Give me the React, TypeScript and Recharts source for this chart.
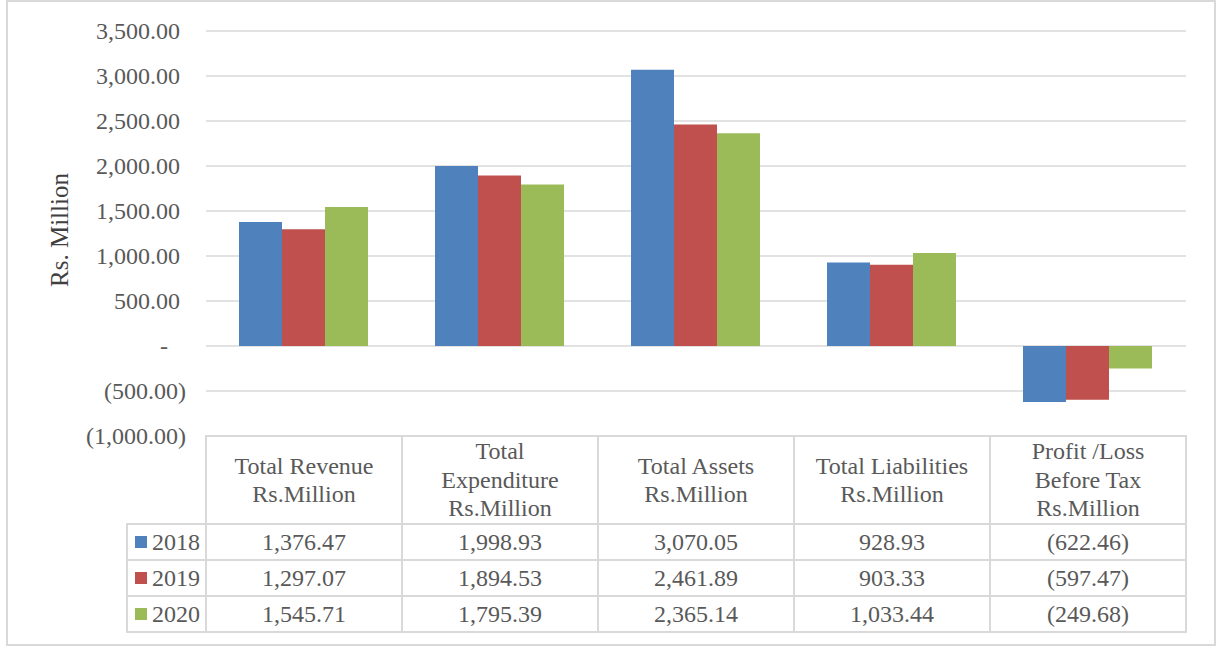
import React from 'react';
import { BarChart, Bar, XAxis, YAxis, CartesianGrid } from 'recharts';

const categories = ['Total Revenue', 'Total Expenditure', 'Total Assets', 'Total Liabilities', 'Profit /Loss Before Tax'];
const headerLines = [
  ['Total Revenue', 'Rs.Million'],
  ['Total', 'Expenditure', 'Rs.Million'],
  ['Total Assets', 'Rs.Million'],
  ['Total Liabilities', 'Rs.Million'],
  ['Profit /Loss', 'Before Tax', 'Rs.Million'],
];
const years = ['2018', '2019', '2020'];
const values2018 = [1376.47, 1998.93, 3070.05, 928.93, -622.46];
const values2019 = [1297.07, 1894.53, 2461.89, 903.33, -597.47];
const values2020 = [1545.71, 1795.39, 2365.14, 1033.44, -249.68];
const yTicks = [-1000, -500, 0, 500, 1000, 1500, 2000, 2500, 3000, 3500];
const colors = ['#4F81BD', '#C0504D', '#9BBB59'];

const seriesValues = [values2018, values2019, values2020];

const data = categories.map((name, i) => ({
  name,
  y2018: values2018[i],
  y2019: values2019[i],
  y2020: values2020[i],
}));

const fmt = (v: number) => {
  if (v === 0) return '-';
  const s = Math.abs(v).toLocaleString('en-US', { minimumFractionDigits: 2, maximumFractionDigits: 2 });
  return v < 0 ? `(${s})` : s;
};

const FONT = '"Liberation Serif", "Times New Roman", serif';
const TEXT = '#595959';
const LINE = '#d9d9d9';
const FS = 24;

const YTick = (props: any) => {
  const { y, payload } = props;
  const v = payload.value as number;
  const x = v === 0 ? 164 : v < 0 ? 186 : 180;
  return (
    <text
      x={x}
      y={y}
      textAnchor={v === 0 ? 'middle' : 'end'}
      dominantBaseline="central"
      fill={TEXT}
      fontFamily={FONT}
      fontSize={FS}
    >
      {fmt(v)}
    </text>
  );
};

const PLOT_LEFT = 206;
const COL_W = 196;
const LEG_LEFT = 127;
const TABLE_TOP = 436;
const HEADER_H = 88;
const ROW_H = 36;

export default function App() {
  const cells: React.ReactNode[] = [];
  headerLines.forEach((lines, i) => {
    cells.push(
      <div
        key={`h${i}`}
        style={{
          position: 'absolute',
          left: PLOT_LEFT + i * COL_W,
          top: TABLE_TOP,
          width: COL_W,
          height: HEADER_H,
          display: 'flex',
          flexDirection: 'column',
          justifyContent: 'center',
          alignItems: 'center',
          lineHeight: '28.5px',
        }}
      >
        {lines.map((l, k) => (
          <div key={k}>{l}</div>
        ))}
      </div>
    );
  });
  years.forEach((yr, r) => {
    const top = TABLE_TOP + HEADER_H + r * ROW_H;
    cells.push(
      <div
        key={`l${r}`}
        style={{
          position: 'absolute',
          left: LEG_LEFT,
          top,
          width: PLOT_LEFT - LEG_LEFT,
          height: ROW_H,
          display: 'flex',
          alignItems: 'center',
        }}
      >
        <span style={{ display: 'inline-block', width: 12, height: 12, background: colors[r], marginLeft: 8, marginRight: 5 }} />
        <span>{yr}</span>
      </div>
    );
    seriesValues[r].forEach((v, c) => {
      cells.push(
        <div
          key={`c${r}-${c}`}
          style={{
            position: 'absolute',
            left: PLOT_LEFT + c * COL_W,
            top,
            width: COL_W,
            height: ROW_H,
            display: 'flex',
            alignItems: 'center',
            justifyContent: 'center',
          }}
        >
          {fmt(v)}
        </div>
      );
    });
  });

  const lines: React.ReactNode[] = [];
  const tableBottom = TABLE_TOP + HEADER_H + 3 * ROW_H;
  const right = PLOT_LEFT + 5 * COL_W;
  for (let i = 0; i <= 5; i++) {
    lines.push(
      <div key={`v${i}`} style={{ position: 'absolute', left: PLOT_LEFT + i * COL_W - 1, top: TABLE_TOP - 1, width: 2, height: tableBottom - TABLE_TOP + 2, background: LINE }} />
    );
  }
  lines.push(
    <div key="vl" style={{ position: 'absolute', left: LEG_LEFT - 1, top: TABLE_TOP + HEADER_H - 1, width: 2, height: 3 * ROW_H + 2, background: LINE }} />
  );
  lines.push(<div key="ht" style={{ position: 'absolute', left: PLOT_LEFT, top: TABLE_TOP - 1, width: right - PLOT_LEFT, height: 2, background: LINE }} />);
  for (let r = 0; r <= 3; r++) {
    const y = TABLE_TOP + HEADER_H + r * ROW_H;
    lines.push(<div key={`h${r}`} style={{ position: 'absolute', left: LEG_LEFT, top: y - 1, width: right - LEG_LEFT, height: 2, background: LINE }} />);
  }

  return (
    <div style={{ position: 'absolute', left: 0, top: 0, width: 1218, height: 648, background: '#fff', fontFamily: FONT, color: TEXT, fontSize: FS }}>
      <div style={{ position: 'absolute', left: 6, top: 0, width: 1210, height: 646, border: `2px solid ${LINE}`, boxSizing: 'border-box' }} />
      <div style={{ position: 'absolute', left: 0, top: 0 }}>
        <BarChart
          width={1218}
          height={648}
          data={data}
          margin={{ top: 31, right: 32, bottom: 212, left: 6 }}
          barCategoryGap={33}
          barGap={0}
        >
          <CartesianGrid vertical={false} stroke={LINE} strokeWidth={1.5} />
          <XAxis dataKey="name" hide />
          <YAxis
            width={200}
            domain={[-1000, 3500]}
            ticks={yTicks}
            interval={0}
            axisLine={false}
            tickLine={false}
            tick={<YTick />}
          />
          <Bar dataKey="y2018" fill={colors[0]} isAnimationActive={false} />
          <Bar dataKey="y2019" fill={colors[1]} isAnimationActive={false} />
          <Bar dataKey="y2020" fill={colors[2]} isAnimationActive={false} />
        </BarChart>
      </div>
      <div
        style={{
          position: 'absolute',
          left: 60,
          top: 230,
          transform: 'translate(-50%, -50%) rotate(-90deg)',
          whiteSpace: 'nowrap',
          fontSize: 25,
          color: '#404040',
        }}
      >
        Rs. Million
      </div>
      {lines}
      {cells}
    </div>
  );
}
